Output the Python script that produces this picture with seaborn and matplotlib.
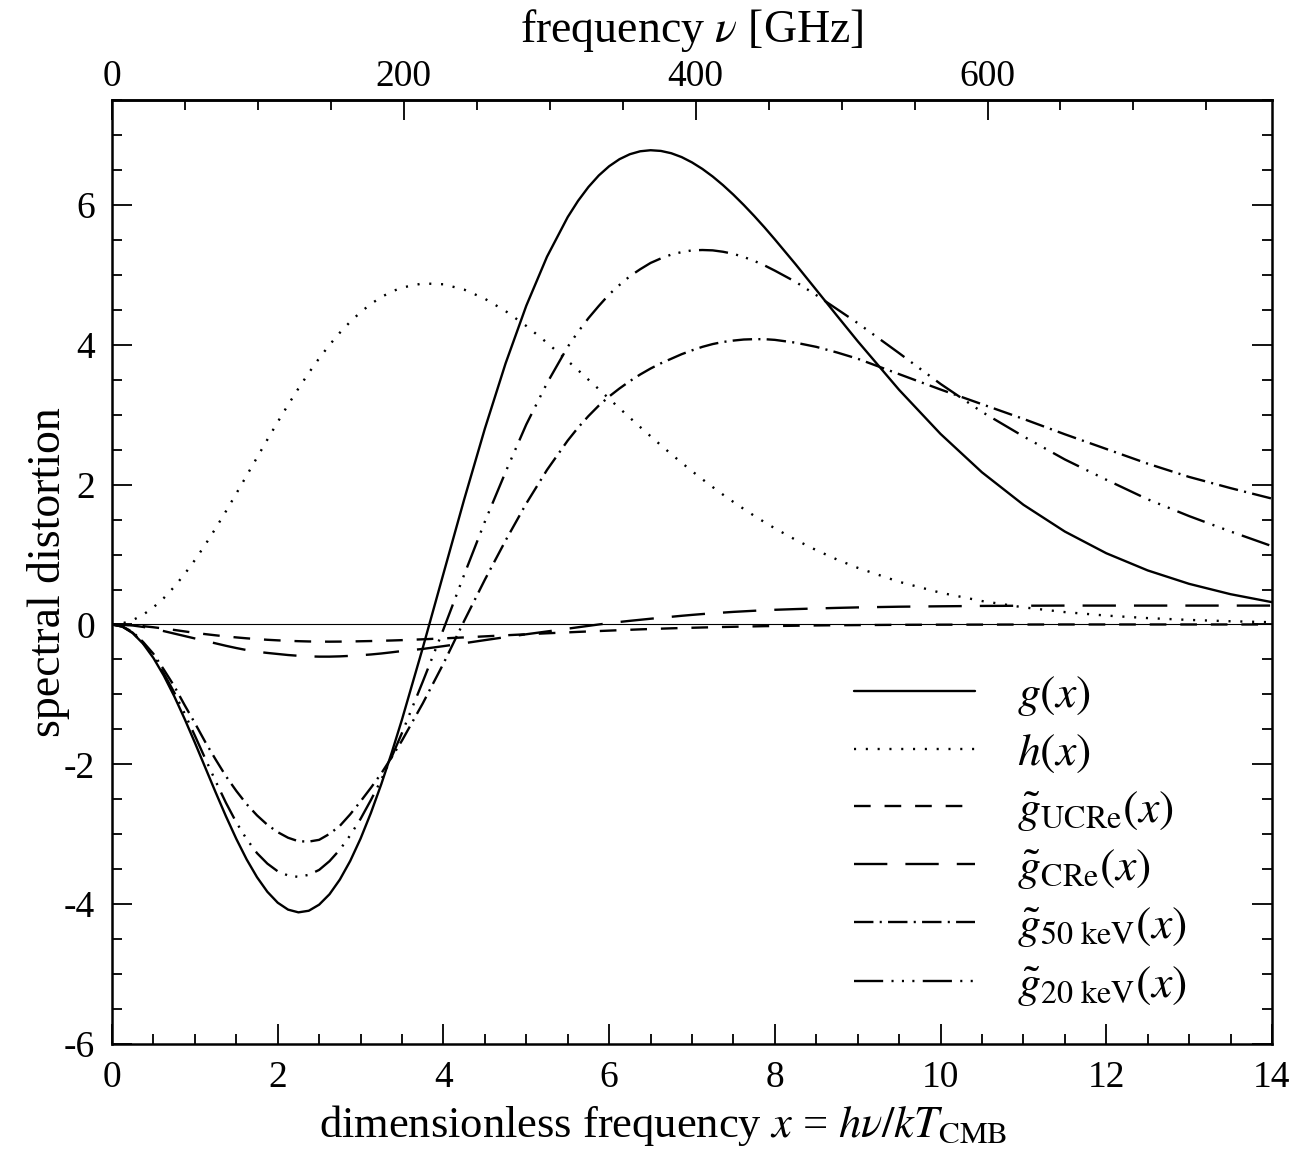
import matplotlib
matplotlib.use('Agg')
import matplotlib.pyplot as plt
from matplotlib.ticker import MultipleLocator
import seaborn as sns

# dimensionless frequency grid (finer around the extrema)
x_vals = [0.0, 0.125, 0.25, 0.375, 0.5, 0.625, 0.75, 0.875, 1.0, 1.125, 1.25, 1.375, 1.5, 1.625,
          1.75, 1.875, 2.0, 2.125, 2.25, 2.375, 2.5, 2.625, 2.75, 2.875, 3.0, 3.125, 3.25, 3.375, 3.5,
          3.75, 4.0, 4.25, 4.5, 4.75, 5.0, 5.25, 5.5,
          5.625, 5.75, 5.875, 6.0, 6.125, 6.25, 6.375, 6.5, 6.625, 6.75, 6.875, 7.0, 7.125, 7.25,
          7.375, 7.5, 7.625, 7.75, 7.875, 8.0,
          8.25, 8.5, 8.75, 9.0,
          9.5, 10.0, 10.5, 11.0, 11.5, 12.0, 12.5, 13.0, 13.5, 14.0]

g_vals = [0.0, -0.031, -0.124, -0.275, -0.480, -0.732, -1.024, -1.347, -1.690, -2.045, -2.399, -2.743,
          -3.066, -3.360, -3.614, -3.823, -3.979, -4.078, -4.117, -4.094, -4.007, -3.858, -3.648, -3.382,
          -3.062, -2.694, -2.284, -1.837, -1.359,
          -0.338, 0.726, 1.786, 2.800, 3.733, 4.558, 5.259, 5.826,
          6.058, 6.256, 6.421, 6.553, 6.654, 6.725, 6.767, 6.782, 6.772, 6.739, 6.684, 6.608, 6.515, 6.406,
          6.282, 6.146, 5.999, 5.843, 5.679, 5.507,
          5.152, 4.785, 4.416, 4.051,
          3.355, 2.725, 2.176, 1.712, 1.329, 1.019, 0.773, 0.581, 0.433, 0.319]

h_vals = [0.0, 0.016, 0.062, 0.139, 0.245, 0.378, 0.537, 0.719, 0.921, 1.140, 1.374, 1.619,
          1.872, 2.129, 2.387, 2.644, 2.896, 3.141, 3.375, 3.598, 3.806, 3.998, 4.173, 4.329,
          4.466, 4.584, 4.682, 4.760, 4.818,
          4.877, 4.865, 4.789, 4.658, 4.482, 4.269, 4.029, 3.770,
          3.637, 3.501, 3.365, 3.228, 3.092, 2.957, 2.823, 2.692, 2.563, 2.436, 2.313, 2.193, 2.077, 1.965,
          1.856, 1.752, 1.652, 1.555, 1.463, 1.375,
          1.211, 1.063, 0.929, 0.810,
          0.610, 0.454, 0.335, 0.245, 0.177, 0.127, 0.091, 0.065, 0.046, 0.032]

ucre_vals = [0.0, -0.003, -0.011, -0.024, -0.040, -0.058, -0.078, -0.099, -0.120, -0.138, -0.155, -0.171,
             -0.185, -0.198, -0.209, -0.219, -0.227, -0.234, -0.239, -0.243, -0.245, -0.246, -0.245, -0.243,
             -0.240, -0.237, -0.233, -0.229, -0.224,
             -0.212, -0.199, -0.185, -0.170, -0.155, -0.140, -0.126, -0.113,
             -0.106, -0.100, -0.094, -0.088, -0.082, -0.076, -0.070, -0.065, -0.060, -0.055, -0.051, -0.047,
             -0.043, -0.040, -0.036, -0.033, -0.030, -0.027, -0.024, -0.022,
             -0.018, -0.014, -0.011, -0.009,
             -0.005, -0.003, -0.002, -0.001, 0.0, 0.0, 0.0, 0.0, 0.0, 0.0]

cre_vals = [0.0, -0.004, -0.015, -0.035, -0.060, -0.095, -0.130, -0.165, -0.200, -0.235, -0.270, -0.305,
            -0.337, -0.366, -0.390, -0.407, -0.422, -0.437, -0.448, -0.456, -0.460, -0.460, -0.456, -0.449,
            -0.440, -0.429, -0.415, -0.398, -0.380,
            -0.350, -0.310, -0.268, -0.224, -0.181, -0.140, -0.100, -0.060,
            -0.040, -0.020, 0.000, 0.019, 0.036, 0.052, 0.067, 0.082, 0.096, 0.110, 0.124, 0.137,
            0.149, 0.160, 0.170, 0.180, 0.188, 0.196, 0.203, 0.210,
            0.220, 0.229, 0.237, 0.244,
            0.254, 0.260, 0.265, 0.268, 0.270, 0.270, 0.270, 0.270, 0.270, 0.270]

kev50_vals = [0.0, -0.028, -0.108, -0.250, -0.420, -0.645, -0.880, -1.150, -1.410, -1.680, -1.930, -2.170,
              -2.380, -2.570, -2.730, -2.865, -2.970, -3.050, -3.100, -3.105, -3.080, -2.995, -2.880, -2.715,
              -2.530, -2.335, -2.130, -1.900, -1.660,
              -1.130, -0.560, 0.050, 0.640, 1.200, 1.730, 2.210, 2.630,
              2.815, 2.980, 3.130, 3.260, 3.375, 3.480, 3.575, 3.660, 3.735, 3.800, 3.865, 3.920,
              3.970, 4.010, 4.040, 4.060, 4.075, 4.080, 4.080, 4.070,
              4.030, 3.970, 3.890, 3.800,
              3.580, 3.360, 3.150, 2.940, 2.720, 2.510, 2.300, 2.110, 1.950, 1.800]

kev20_vals = [0.0, -0.030, -0.118, -0.268, -0.458, -0.700, -0.970, -1.270, -1.590, -1.918, -2.240, -2.550,
              -2.830, -3.070, -3.270, -3.420, -3.530, -3.590, -3.610, -3.580, -3.510, -3.385, -3.220, -3.015,
              -2.780, -2.510, -2.220, -1.895, -1.550,
              -0.820, -0.070, 0.710, 1.470, 2.180, 2.860, 3.450, 3.970,
              4.185, 4.380, 4.555, 4.720, 4.855, 4.980, 5.080, 5.170, 5.235, 5.290, 5.325, 5.350,
              5.355, 5.350, 5.330, 5.300, 5.255, 5.200, 5.135, 5.060,
              4.900, 4.710, 4.510, 4.310,
              3.880, 3.440, 3.040, 2.690, 2.360, 2.070, 1.790, 1.550, 1.330, 1.120]

labels = [r'$g(x)$', r'$h(x)$', r'$\tilde{g}_{\rm UCRe}(x)$', r'$\tilde{g}_{\rm CRe}(x)$',
          r'$\tilde{g}_{\rm 50\ keV}(x)$', r'$\tilde{g}_{\rm 20\ keV}(x)$']

GHZ_PER_X = 56.78  # kT_CMB/h in GHz

sns.set_style('ticks')
plt.rcParams['font.family'] = ['Liberation Serif', 'DejaVu Serif']
plt.rcParams['mathtext.fontset'] = 'stix'
plt.rcParams['axes.unicode_minus'] = False
plt.rcParams['lines.scale_dashes'] = False
for key in ['text.color', 'axes.labelcolor', 'xtick.color', 'ytick.color', 'axes.edgecolor']:
    plt.rcParams[key] = 'black'

styles = ['-', (0, (1.5, 7)), (0, (12, 10)), (0, (24, 13)),
          (0, (14, 4.5, 1.5, 4.5)), (0, (21, 6, 1.5, 6, 1.5, 6, 1.5, 6))]
series = [g_vals, h_vals, ucre_vals, cre_vals, kev50_vals, kev20_vals]

fig = plt.figure(figsize=(12.95, 11.59), dpi=100)
ax = fig.add_axes([0.0865, 0.0992, 0.8957, 0.8145])

ax.axhline(0, color='black', lw=0.8)
for vals, ls, lab in zip(series, styles, labels):
    sns.lineplot(x=x_vals, y=vals, ax=ax, color='black', lw=1.7, linestyle=ls,
                 label=lab, estimator=None, sort=False)

ax.set_xlim(0, 14)
ax.set_ylim(-6, 7.5)
ax.xaxis.set_major_locator(MultipleLocator(2))
ax.xaxis.set_minor_locator(MultipleLocator(0.5))
ax.yaxis.set_major_locator(MultipleLocator(2))
ax.yaxis.set_minor_locator(MultipleLocator(0.5))
ax.tick_params(which='both', direction='in', top=False, right=True, width=1.3, labelsize=27)
ax.tick_params(which='major', length=14.5, pad=12)
ax.tick_params(which='minor', length=7)
for sp in ax.spines.values():
    sp.set_linewidth(1.8)

ax.set_xlabel(r'dimensionless frequency $x$ = $h\nu/kT_{\rm CMB}$', fontsize=32)
ax.xaxis.set_label_coords(0.475, -0.062)
ax.set_ylabel('spectral distortion', fontsize=33, labelpad=-4)

secax = ax.secondary_xaxis('top', functions=(lambda x: x * GHZ_PER_X, lambda v: v / GHZ_PER_X))
secax.set_xticks([0, 200, 400, 600])
secax.xaxis.set_minor_locator(MultipleLocator(50))
secax.tick_params(which='both', direction='in', width=1.3, labelsize=27)
secax.tick_params(which='major', length=14.5, pad=4)
secax.tick_params(which='minor', length=7)
secax.spines['top'].set_linewidth(1.8)
secax.set_xlabel(r'frequency $\nu$ [GHz]', fontsize=33, labelpad=13)

ax.legend(loc='upper left', bbox_to_anchor=(0.6397, 0.392), frameon=False, fontsize=33,
          handlelength=2.64, handletextpad=0.92, labelspacing=0.31,
          borderpad=0, borderaxespad=0)

fig.savefig('out.png', dpi=100)
